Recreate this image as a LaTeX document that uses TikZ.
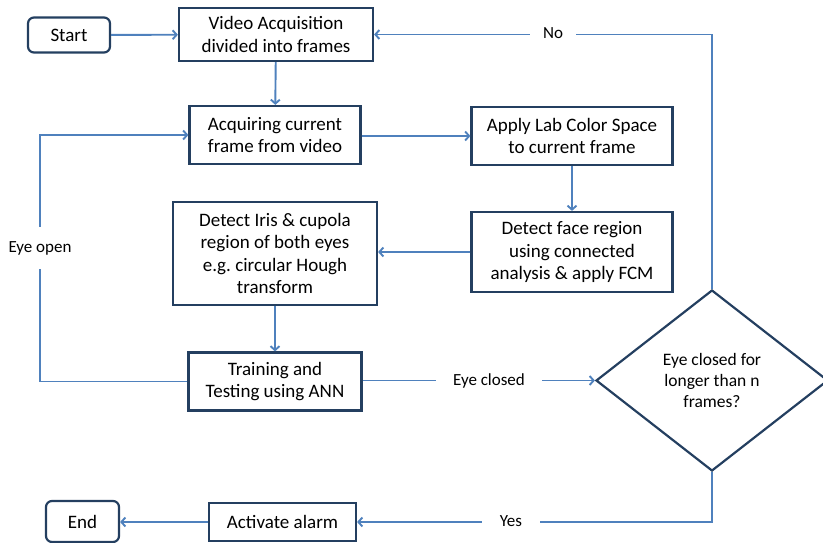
\documentclass[tikz,border=0pt]{standalone}
\usepackage{fontspec}
\setmainfont{Carlito}
\usetikzlibrary{arrows.meta,positioning,shapes.geometric}
\definecolor{boxnavy}{HTML}{243F60}
\definecolor{lineblue}{HTML}{4F81BD}

\begin{document}
\begin{tikzpicture}[x=1pt,y=-1pt]
  \tikzset{>={Straight Barb[length=4pt,width=9pt]},
    box/.style={draw=boxnavy,line width=2.2pt,align=center,inner sep=0pt,
      font=\fontsize{19}{22.3}\selectfont},
    term/.style={box,rounded corners=6pt},
    flow/.style={draw=lineblue,line width=1.9pt},
    lbl/.style={fill=white,inner xsep=15pt,inner ysep=12pt,
      font=\fontsize{17}{20}\selectfont}}
  \useasboundingbox (0,0) rectangle (823,543);

    \node[term,minimum width=82,minimum height=35] (start) at (69,35) {Start};
    \node[box,minimum width=194,minimum height=53] (video) at (276,34.5)
      {Video Acquisition\\divided into frames};
    \node[box,minimum width=171,minimum height=58] (acquire) at (275,135)
      {Acquiring current\\frame from video};
    \node[box,minimum width=201,minimum height=58] (lab) at (572,136)
      {Apply Lab Color Space\\to current frame};
    \node[box,minimum width=201,minimum height=80] (face) at (572,252)
      {Detect face region\\using connected\\analysis \& apply FCM};
    \node[box,minimum width=204,minimum height=103] (iris) at (275,253.5)
      {Detect Iris \& cupola\\region of both eyes\\e.g.\ circular Hough\\transform};
    \node[box,minimum width=173,minimum height=58] (train) at (275,381.5)
      {Training and\\Testing using ANN};
    \node[box,diamond,minimum width=232,minimum height=181,
      font=\fontsize{17.5}{21}\selectfont] (decide) at (712,380.5)
      {Eye closed for\\longer than n\\frames?};
    \node[box,minimum width=147,minimum height=38] (alarm) at (282.5,522)
      {Activate alarm};
    \node[term,minimum width=73,minimum height=41] (end) at (82.5,521.5) {End};
    \coordinate (openturn) at (40,381.5);

    % connectors
    \draw[flow,->] (start) -- (video);
    \draw[flow,->] (video) -- (acquire);
    \draw[flow,->] (acquire.east |- lab.west) -- (lab.west);
    \draw[flow,->] (lab) -- (face);
    \draw[flow,->] (face.west) -- (face.west -| iris.east);
    \draw[flow,->] (iris) -- (train);
    \draw[flow,->] (train.east |- decide.west) -- (decide.west);
    \draw[flow,->] (train.west) -- (openturn) |- (acquire.west);
    \draw[flow,->] (decide.north) |- (video.east);
    \draw[flow,->] (decide.south) |- (alarm.east);
    \draw[flow,->] (alarm.west) -- (alarm.west -| end.east);

    % labels on the lines
    \node[lbl,inner xsep=13pt] (lblno) at (553,33) {No};
    \node[lbl,inner xsep=6pt,inner ysep=14pt] (lblopen) at (40,248) {Eye open};
    \node[lbl,inner xsep=17pt] (lblclosed) at (489,380.5) {Eye closed};
    \node[lbl,inner xsep=18pt] (lblyes) at (511,521) {Yes};
\end{tikzpicture}
\end{document}
